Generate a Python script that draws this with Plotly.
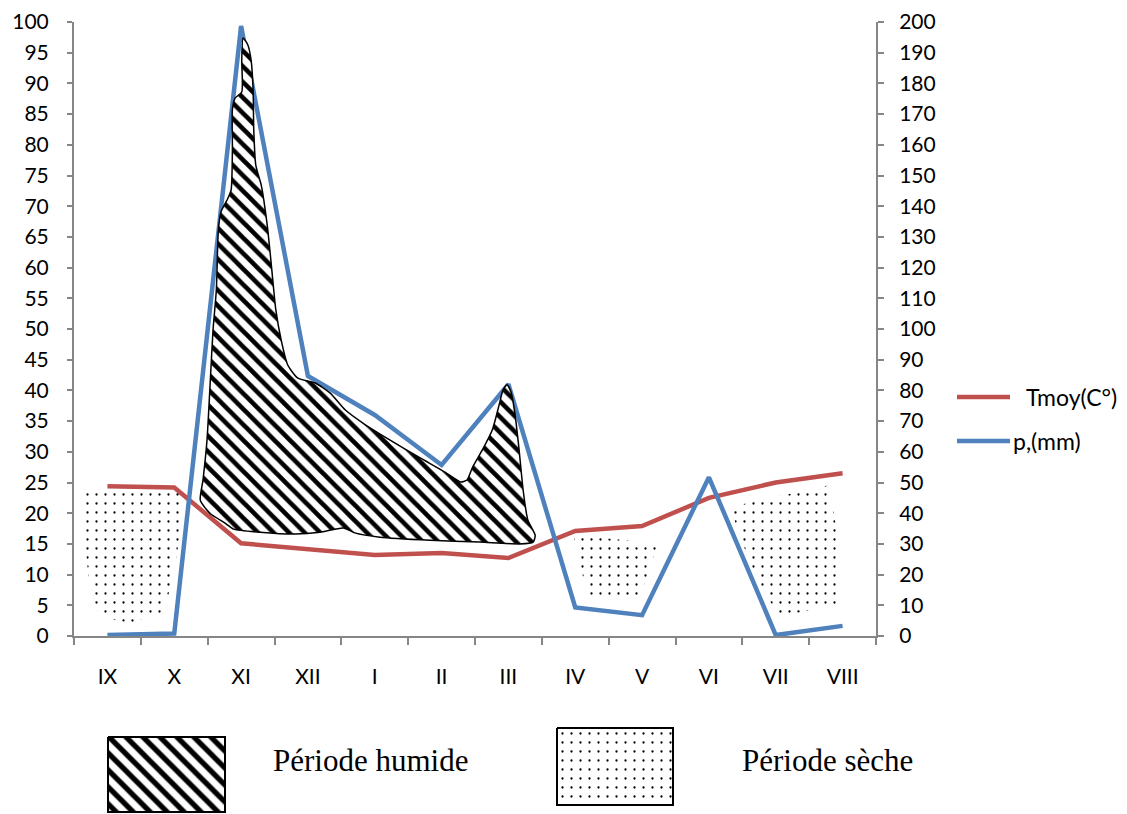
import plotly.graph_objects as go

W, H = 1127, 814

mois = ["IX", "X", "XI", "XII", "I", "II", "III", "IV", "V", "VI", "VII", "VIII"]
tmoy = [24.4, 24.2, 15.1, 14.2, 13.2, 13.5, 12.7, 17.1, 17.9, 22.5, 25.0, 26.5]
precip = [0.3, 0.8, 198.7, 84.7, 72.0, 55.7, 82.0, 9.3, 6.8, 51.7, 0.3, 3.3]

# période humide (tracé à la main) : x = indice du mois, y = échelle de gauche
humide_x = [2.03, 2.10, 2.15, 2.18, 2.19, 2.22, 2.30, 2.34, 2.40, 2.46, 2.52, 2.60, 2.70,
            2.85, 3.11, 3.33, 3.56, 3.86, 4.23, 4.68, 5.05, 5.28, 5.38, 5.46, 5.61, 5.76,
            5.86, 5.92, 5.98, 6.04, 6.10, 6.16, 6.22, 6.29, 6.40, 6.37, 6.17, 5.57, 4.83,
            4.08, 3.70, 3.53, 3.18, 2.81, 2.28, 1.89, 1.76, 1.54, 1.39, 1.43, 1.49, 1.54,
            1.58, 1.63, 1.66, 1.70, 1.79, 1.85, 1.87, 1.87, 1.91, 2.01, 2.01, 2.03]
humide_y = [97.4, 96.3, 93.8, 88.9, 82.4, 76.7, 73.5, 71.0, 66.1, 59.6, 53.1, 48.2, 44.1,
            42.0, 41.2, 39.6, 36.8, 34.4, 31.9, 29.0, 26.7, 25.1, 25.4, 27.4, 30.3, 33.6,
            37.6, 40.1, 40.9, 39.7, 36.0, 30.3, 23.8, 18.9, 16.4, 15.3, 15.0, 15.3, 15.6,
            16.1, 16.8, 17.6, 16.9, 16.6, 16.9, 17.4, 18.4, 19.9, 22.1, 25.4, 31.9, 41.7,
            49.8, 56.4, 66.1, 69.1, 71.0, 72.6, 79.2, 85.7, 87.6, 88.6, 93.8, 97.4]

# périodes sèches
seche1_x = [-0.38, 1.09, 1.07, 0.98, 0.83, 0.34, -0.11, -0.26, -0.34, -0.38]
seche1_y = [23.3, 23.8, 15.6, 9.1, 3.9, 2.1, 3.1, 7.5, 15.6, 23.3]
seche2_x = [6.97, 8.24, 7.97, 7.18, 6.97]
seche2_y = [16.4, 15.1, 6.4, 6.7, 16.4]
seche3_x = [9.32, 10.81, 10.93, 10.99, 10.06, 9.72, 9.47, 9.32]
seche3_y = [21.0, 24.6, 15.6, 5.4, 3.1, 9.1, 16.1, 21.0]

ROUGE = "#C0504D"
BLEU = "#4F81BD"
GRIS = "#868686"
FONT = "Lato"

# zone de tracé (pixels)
PL, PR, PT, PB = 74, 876, 22, 636

hatch = dict(shape="\\", size=11, solidity=0.42, fgcolor="black", fgopacity=1, bgcolor="white")
dots = dict(shape=".", size=9, solidity=0.05, fgcolor="black", fgopacity=1,
            bgcolor="rgba(0,0,0,0)")

fig = go.Figure()

fig.add_trace(go.Scatter(x=mois, y=tmoy, mode="lines", name="Tmoy(C°)",
                         line=dict(color=ROUGE, width=4.5), xaxis="x", yaxis="y"))
fig.add_trace(go.Scatter(x=mois, y=precip, mode="lines", name="p,(mm)",
                         line=dict(color=BLEU, width=4.5), xaxis="x", yaxis="y2"))

for sx, sy in [(seche1_x, seche1_y), (seche2_x, seche2_y), (seche3_x, seche3_y)]:
    fig.add_trace(go.Scatter(x=sx, y=sy, mode="none", fill="toself", fillpattern=dots,
                             xaxis="x3", yaxis="y", hoverinfo="skip"))

fig.add_trace(go.Scatter(x=humide_x, y=humide_y, mode="lines", fill="toself",
                         line=dict(color="black", width=1.5, shape="spline", smoothing=0.6),
                         fillpattern=hatch, xaxis="x3", yaxis="y", hoverinfo="skip"))

# cases de la légende du bas (repère en pixels)
fig.add_trace(go.Scatter(x=[108, 225, 225, 108, 108], y=[737, 737, 812, 812, 737],
                         mode="lines", fill="toself", line=dict(color="black", width=2),
                         fillpattern=dict(shape="\\", size=12, solidity=0.45, fgopacity=1,
                                          fgcolor="black", bgcolor="white"),
                         xaxis="x4", yaxis="y4", hoverinfo="skip"))
fig.add_trace(go.Scatter(x=[557, 673, 673, 557, 557], y=[728, 728, 805, 805, 728],
                         mode="lines", fill="toself", line=dict(color="black", width=2),
                         fillpattern=dict(shape=".", size=9, solidity=0.05, fgopacity=1,
                                          fgcolor="black", bgcolor="white"),
                         xaxis="x4", yaxis="y4", hoverinfo="skip"))

axis_common = dict(showgrid=False, zeroline=False, showline=True, linecolor=GRIS,
                   linewidth=2, ticks="outside", tickcolor=GRIS, tickwidth=1.5,
                   automargin=False,
                   tickfont=dict(family=FONT, size=21, color="black"))

fig.update_layout(
    width=W, height=H,
    margin=dict(l=0, r=0, t=0, b=0),
    paper_bgcolor="white", plot_bgcolor="rgba(0,0,0,0)",
    showlegend=False,
    xaxis=dict(axis_common, type="category", categoryarray=mois, range=[-0.5, 11.5],
               tickson="boundaries", ticklen=7, ticklabelstandoff=21,
               domain=[PL / W, PR / W], anchor="y"),
    yaxis=dict(axis_common, range=[0, 100], dtick=5, ticklen=5, ticklabelstandoff=14,
               domain=[1 - PB / H, 1 - PT / H], anchor="x"),
    yaxis2=dict(axis_common, range=[0, 200], dtick=10, ticklen=6, ticklabelstandoff=11,
                overlaying="y", side="right", anchor="x"),
    xaxis3=dict(range=[-0.5, 11.5], overlaying="x", visible=False, automargin=False),
    xaxis4=dict(range=[0, W], domain=[0, 1], visible=False, anchor="y4", automargin=False),
    yaxis4=dict(range=[H, 0], domain=[0, 1], visible=False, anchor="x4", automargin=False),
)

# légende des courbes (à droite)
def px(x):
    return x / W

def py(y):
    return 1 - y / H

fig.add_shape(type="line", xref="paper", yref="paper", x0=px(957), x1=px(1010),
              y0=py(397), y1=py(397), line=dict(color=ROUGE, width=4.5))
fig.add_shape(type="line", xref="paper", yref="paper", x0=px(957), x1=px(1010),
              y0=py(441), y1=py(441), line=dict(color=BLEU, width=4.5))
fig.add_annotation(text="Tmoy(C°)", xref="paper", yref="paper", x=px(1024), y=py(397),
                   xanchor="left", yanchor="middle", showarrow=False,
                   font=dict(family=FONT, size=23, color="black"))
fig.add_annotation(text="p,(mm)", xref="paper", yref="paper", x=px(1011), y=py(441),
                   xanchor="left", yanchor="middle", showarrow=False,
                   font=dict(family=FONT, size=23, color="black"))

fig.add_annotation(text="Période humide", xref="paper", yref="paper", x=px(271), y=py(760),
                   xanchor="left", yanchor="middle", showarrow=False,
                   font=dict(family="Liberation Serif", size=31, color="black"))
fig.add_annotation(text="Période sèche", xref="paper", yref="paper", x=px(740), y=py(760),
                   xanchor="left", yanchor="middle", showarrow=False,
                   font=dict(family="Liberation Serif", size=31, color="black"))

fig.write_html("out.html", config={"displayModeBar": False},
               post_script="document.body.style.margin = '0';")
